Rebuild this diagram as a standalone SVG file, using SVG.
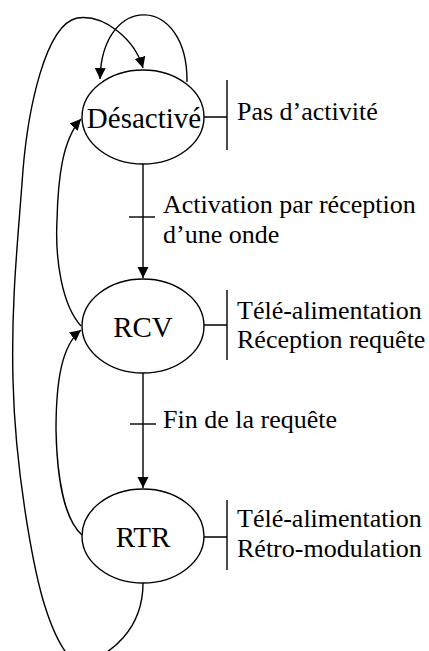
<svg xmlns="http://www.w3.org/2000/svg" width="429" height="651" viewBox="0 0 429 651">
<defs>
<marker id="arr" markerUnits="userSpaceOnUse" markerWidth="12" markerHeight="12" viewBox="0 0 12 12" refX="11" refY="6" orient="auto">
<path d="M0,0.5 L11,6 L0,11.5 Z" fill="#000"/>
</marker>
<style>
.st{fill:#fff;stroke:#000;stroke-width:1.4}
.ln{fill:none;stroke:#000;stroke-width:1.4}
.ar{fill:none;stroke:#000;stroke-width:1.4;marker-end:url(#arr)}
.nl{font-family:"Liberation Serif","Times New Roman",serif;font-size:29px;fill:#000;text-anchor:middle}
.lb{font-family:"Liberation Serif","Times New Roman",serif;font-size:26px;fill:#000}
</style>
</defs>
<rect width="429" height="651" fill="#fff"/>
<g id="connectors">
<path class="ar" d="M187,82 C188,-6 102,-8 100,79"/>
<path class="ar" d="M143,583 C143,630 110,655 85,662 C70,667 55,640 43,600 C33,565 15,470 13,380 C11,300 18,240 23,170 C28,110 45,25 77,18 C105,14 135,40 143,68"/>
<path class="ar" d="M81,326 C62,305 55,260 57,220 C58,180 62,140 81,119"/>
<path class="ar" d="M82,535 C65,520 57,480 56,430 C56,380 62,345 81,330"/>
<path class="ar" d="M143,164 L143,278"/>
<path class="ln" d="M129,217 L155,217"/>
<path class="ar" d="M143,373 L143,488"/>
<path class="ln" d="M130,424 L156,424"/>
</g>
<g id="n_desactive">
<ellipse class="st" cx="143" cy="117" rx="61" ry="47"/>
<text class="nl" x="144" y="128">Désactivé</text>
<path class="ln" d="M204,117 L227,117 M227,80 L227,150"/>
<text class="lb" x="237" y="120">Pas d’activité</text>
</g>
<g id="n_rcv">
<ellipse class="st" cx="143" cy="326" rx="61" ry="47"/>
<text class="nl" x="143" y="337">RCV</text>
<path class="ln" d="M204,325 L227,325 M227,290 L227,360"/>
<text class="lb" x="237" y="319">Télé-alimentation</text>
<text class="lb" x="237" y="348">Réception requête</text>
</g>
<g id="n_rtr">
<ellipse class="st" cx="143" cy="536" rx="61" ry="47"/>
<text class="nl" x="143" y="547">RTR</text>
<path class="ln" d="M204,537 L227,537 M227,500 L227,570"/>
<text class="lb" x="237" y="527">Télé-alimentation</text>
<text class="lb" x="237" y="557">Rétro-modulation</text>
</g>
<g id="labels">
<text class="lb" x="163" y="213">Activation par réception</text>
<text class="lb" x="163" y="243">d’une onde</text>
<text class="lb" x="163" y="428">Fin de la requête</text>
</g>
</svg>
